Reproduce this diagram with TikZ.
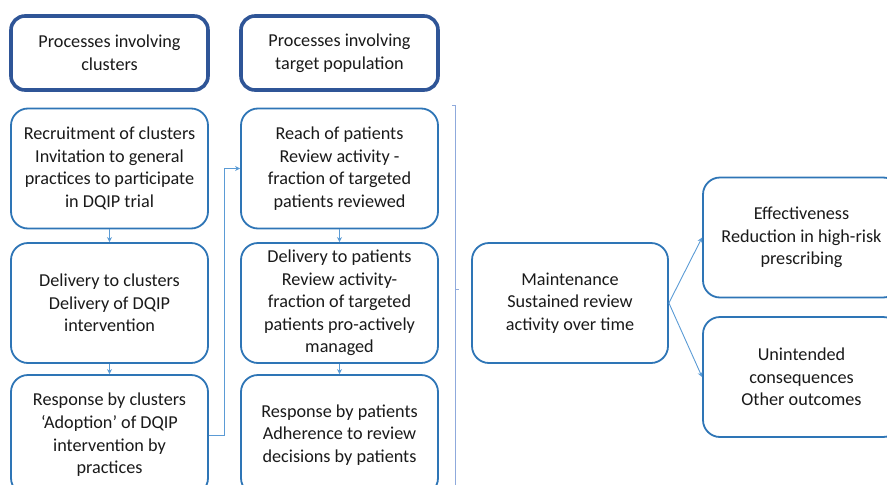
\documentclass[tikz,border=0pt]{standalone}
\usepackage{fontspec}
\setmainfont{Carlito}
\usetikzlibrary{arrows.meta}
\definecolor{boxblue}{HTML}{2E75B6}
\definecolor{headblue}{HTML}{2F5597}
\definecolor{linkblue}{HTML}{5B9BD5}
\definecolor{brackblue}{HTML}{8FAADC}
\definecolor{txt}{HTML}{1A1A1A}
\begin{document}
\begin{tikzpicture}[x=1pt,y=-1pt,
  box/.style={draw=boxblue,line width=1.8pt,rounded corners=17pt,fill=white,
    minimum width=197pt,minimum height=120pt,align=center,text=txt,
    font=\fontsize{18.2}{22.6}\selectfont,inner sep=0pt},
  headbox/.style={box,draw=headblue,line width=3.6pt,minimum height=74pt,rounded corners=14pt},
  arr/.style={draw=linkblue,line width=0.9pt,-{Stealth[length=5pt,width=5pt]}},
  link/.style={draw=linkblue,line width=1.1pt}]
\useasboundingbox (0,0) rectangle (887,485);
\clip (0,0) rectangle (887,485);
\node[headbox] (h1) at (109.5,53) {Processes involving\\clusters};
\node[headbox] (h2) at (339.5,53) {Processes involving\\target population};
\node[box] (l1) at (109.5,168.5) {Recruitment of clusters\\Invitation to general\\practices to participate\\in DQIP trial};
\node[box] (l2) at (109.5,303) {Delivery to clusters\\Delivery of DQIP\\intervention};
\node[box] (l3) at (109.5,435) {Response by clusters\\‘Adoption’ of DQIP\\intervention by\\practices};
\node[box] (r1) at (339.5,168.5) {Reach of patients\\Review activity -\\fraction of targeted\\patients reviewed};
\node[box] (r2) at (339.5,303) {Delivery to patients\\Review activity-\\fraction of targeted\\patients pro-actively\\managed};
\node[box] (r3) at (339.5,435) {Response by patients\\Adherence to review\\decisions by patients};
\node[box,minimum width=196pt] (m) at (570,303) {Maintenance\\Sustained review\\activity over time};
\node[box] (e) at (801.5,237.5) {Effectiveness\\Reduction in high-risk\\prescribing};
\node[box] (u) at (801.5,377) {Unintended\\consequences\\Other outcomes};
\draw[arr] (l1.south) -- (l2.north);
\draw[arr] (l2.south) -- (l3.north);
\draw[arr] (r1.south) -- (r2.north);
\draw[arr] (r2.south) -- (r3.north);
\draw[arr] (l3.east) -- ++(16,0) |- (r1.west);
\draw[arr] (m.east) -- (e.west);
\draw[arr] (m.east) -- (u.west);
\coordinate (bt) at (452,105);
\coordinate (bm) at (459,289);
\coordinate (bb) at (455,495);
\draw[draw=brackblue,line width=0.9pt] (bt) -- ++(3,0) -- (bb);
\draw[draw=brackblue,line width=0.9pt] (455,289) -- (bm);
\end{tikzpicture}
\end{document}
